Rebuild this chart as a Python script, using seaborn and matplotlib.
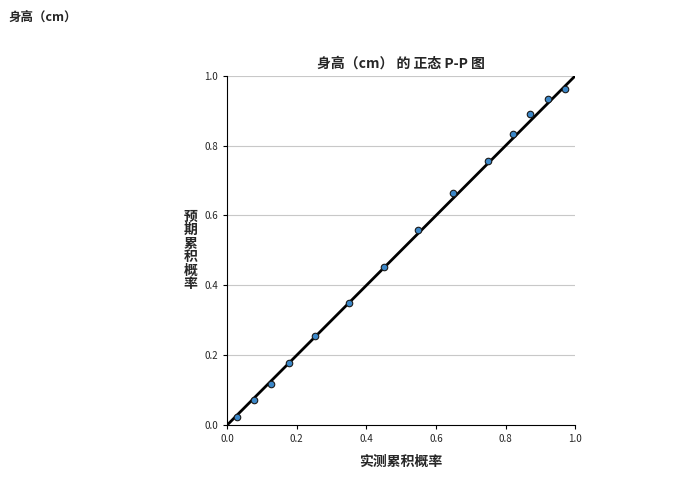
import matplotlib
matplotlib.use("Agg")
import matplotlib.pyplot as plt
import seaborn as sns
import pandas as pd

observed = [0.029, 0.078, 0.126, 0.178, 0.253, 0.351, 0.451, 0.549, 0.649, 0.750, 0.822, 0.871, 0.922, 0.971]
expected = [0.023, 0.072, 0.117, 0.178, 0.255, 0.350, 0.453, 0.559, 0.665, 0.756, 0.834, 0.891, 0.934, 0.963]
ticks = [0.0, 0.2, 0.4, 0.6, 0.8, 1.0]
tick_labels = ["0.0", "0.2", "0.4", "0.6", "0.8", "1.0"]

sns.set_style("white")
plt.rcParams['font.family'] = ['Noto Sans CJK SC', 'DejaVu Sans']

fig = plt.figure(figsize=(6.8, 4.92), dpi=100)
ax = fig.add_axes([0.334, 0.136, 0.512, 0.710])
df = pd.DataFrame({"x": observed, "y": expected})
for t in ticks[1:]:
    ax.axhline(t, color="#c8c8c8", lw=0.8, zorder=0)
sns.lineplot(x=[0, 1], y=[0, 1], color="black", lw=2, ax=ax, zorder=2)
sns.scatterplot(data=df, x="x", y="y", ax=ax, color="#3b87c8", edgecolor="#1a1a1a",
                linewidth=0.8, s=22, zorder=3)
ax.set_xlim(0, 1)
ax.set_ylim(0, 1)
ax.set_xticks(ticks)
ax.set_xticklabels(tick_labels, fontsize=7)
ax.set_yticks(ticks)
ax.set_yticklabels(tick_labels, fontsize=7)
ax.tick_params(length=3, color="black", bottom=True, left=True)
for s in ["top", "right"]:
    ax.spines[s].set_visible(False)
for s in ["left", "bottom"]:
    ax.spines[s].set_color("black")
    ax.spines[s].set_linewidth(0.8)
ax.set_xlabel("实测累积概率", fontsize=10, fontweight="bold", labelpad=8)
ax.set_ylabel("预\n期\n累\n积\n概\n率", fontsize=10, fontweight="bold", rotation=0,
              va="center", labelpad=10, linespacing=0.95)
ax.set_title("身高（cm） 的 正态 P-P 图", fontsize=10, fontweight="bold", pad=6)
fig.text(0.012, 0.965, "身高（cm）", fontsize=9, fontweight="bold", va="center")
fig.savefig("out.png", dpi=100)
